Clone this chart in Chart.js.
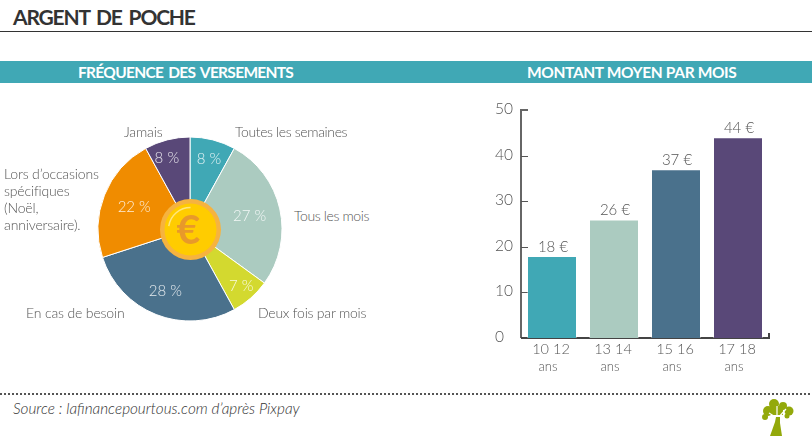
<!DOCTYPE html>
<html lang="fr">
<head>
<meta charset="utf-8">
<title>Argent de poche</title>
<script src="https://cdn.jsdelivr.net/npm/chart.js@4/dist/chart.umd.min.js"></script>
<style>
  html, body { margin: 0; padding: 0; background: #fff; }
  body { position: relative; width: 812px; height: 436px; overflow: hidden; font-family: Lato, sans-serif; }
  .abs { position: absolute; }
  canvas { position: absolute; display: block; }
  #title { left: 13px; top: 4px; font-size: 21px; font-weight: 700; color: #333; line-height: 26px; letter-spacing: -1.2px; word-spacing: 3px; }
  #rule { left: 0; top: 31px; width: 812px; height: 1px; background: #333; }
  #band { left: 0; top: 61px; width: 812px; height: 22px; background: #40a8b5; }
  .head { top: 61px; height: 22px; line-height: 23px; color: #fff; font-size: 15.5px; font-weight: 700; white-space: nowrap; }
  #dots { left: 0; top: 393px; width: 812px; height: 2px; background: repeating-linear-gradient(to right, #555 0 2px, transparent 2px 4px); }
  #source { left: 13px; top: 399px; font-size: 15.3px; font-style: italic; font-weight: 300; color: #333; }
  .lbl { font-size: 14px; font-weight: 300; color: #555; line-height: 17px; white-space: nowrap; letter-spacing: -0.15px; }
</style>
</head>
<body>
<div class="abs" id="title">ARGENT DE POCHE</div>
<div class="abs" id="rule"></div>
<div class="abs" id="band"></div>
<div class="abs head" style="left:78px;letter-spacing:-0.7px;word-spacing:2px">FRÉQUENCE DES VERSEMENTS</div>
<div class="abs head" style="left:527px;letter-spacing:-0.36px">MONTANT MOYEN PAR MOIS</div>

<canvas id="pieChart" width="200" height="200" style="left:90px;top:129px"></canvas>
<canvas id="barChart" width="300" height="290" style="left:480px;top:90px"></canvas>

<div class="abs lbl" style="left:124px;top:123px">Jamais</div>
<div class="abs lbl" style="left:235px;top:123px;letter-spacing:-0.37px">Toutes les semaines</div>
<div class="abs lbl" style="left:294px;top:207px;letter-spacing:-0.37px">Tous les mois</div>
<div class="abs lbl" style="left:258px;top:304px;letter-spacing:-0.22px">Deux fois par mois</div>
<div class="abs lbl" style="left:26px;top:304px">En cas de besoin</div>
<div class="abs lbl" style="left:4px;top:165px">Lors d’occasions<br>spécifiques<br>(Noël,<br>anniversaire).</div>

<div class="abs" id="dots"></div>
<div class="abs" id="source">Source : lafinancepourtous.com d’après Pixpay</div>

<svg class="abs" style="left:760px;top:398px" width="40" height="38" viewBox="0 0 40 38">
  <g fill="#93a90b">
    <circle cx="14" cy="6" r="5"/><circle cx="23" cy="8" r="4"/><circle cx="29" cy="13" r="4.5"/>
    <circle cx="8" cy="13" r="5"/><circle cx="5" cy="19" r="3"/><circle cx="27" cy="18" r="2.5"/>
    <rect x="11" y="8" width="12" height="9"/>
  </g>
  <path d="M17 20 L9 15 M17 20 L17 8 M18 20 L26 11" stroke="#fff" stroke-width="1.2" fill="none"/>
  <path d="M10 38 L15 24 L16 19 L20 19 L20 25 L22 38 Z" fill="#93a90b"/>
</svg>

<script>
// values
const pieLabels = ['Toutes les semaines', 'Tous les mois', 'Deux fois par mois', 'En cas de besoin', "Lors d'occasions spécifiques", 'Jamais'];
const pieValues = [8, 27, 7, 28, 22, 8];
const pieColors = ['#40a8b5', '#abcbc0', '#d3d92f', '#4a718c', '#f08c00', '#594878'];

const ageLabels = ['10 12', '13 14', '15 16', '17 18'];
const amounts = [18, 26, 37, 44];
const barColors = ['#40a8b5', '#abcbc0', '#4a718c', '#594878'];
const yTicks = [0, 10, 20, 30, 40, 50];

const FONT = 'Lato';

// how far from the centre each percentage sits (the original is hand placed)
const sliceLabelRadius = [72, 61, 76, 67, 60, 73];
const sliceLabelNudge = [1, 0, 1, 0, 0, -5];

// slice percentages, then the coin on top
const pieOverlay = {
  id: 'pieOverlay',
  afterDatasetsDraw(chart) {
    const c = chart.ctx;
    const arcs = chart.getDatasetMeta(0).data;
    c.save();
    c.font = '300 15px ' + FONT;
    c.fillStyle = 'rgba(255,255,255,0.85)';
    c.textAlign = 'center';
    c.textBaseline = 'middle';
    arcs.forEach((arc, i) => {
      const mid = (arc.startAngle + arc.endAngle) / 2;
      const r = sliceLabelRadius[i];
      c.fillText(pieValues[i] + ' %', arc.x + Math.cos(mid) * r + sliceLabelNudge[i], arc.y + Math.sin(mid) * r);
    });
    const x = arcs[0].x + 0.5, y = arcs[0].y + 0.5;
    c.fillStyle = '#f6b33f';
    c.beginPath(); c.arc(x, y, 30.5, 0, Math.PI * 2); c.fill();
    c.fillStyle = '#ffcc00';
    c.beginPath(); c.arc(x, y, 26, 0, Math.PI * 2); c.fill();
    c.strokeStyle = '#ffe680';
    c.lineWidth = 1.5;
    c.beginPath(); c.arc(x, y, 22, Math.PI * 1.05, Math.PI * 1.5); c.stroke();
    c.fillStyle = '#e8992a';
    c.font = '700 41px ' + FONT;
    c.fillText('€', x - 2, y + 1);
    c.restore();
  }
};

new Chart(document.getElementById('pieChart'), {
  type: 'pie',
  data: {
    labels: pieLabels,
    datasets: [{
      data: pieValues,
      backgroundColor: pieColors,
      borderColor: '#fff',
      borderWidth: 1
    }]
  },
  options: {
    responsive: false,
    animation: false,
    layout: { padding: 7.5 },
    plugins: { legend: { display: false }, tooltip: { enabled: false } }
  },
  plugins: [pieOverlay]
});

// axis lines sit under the bars, like in the original
const barAxes = {
  id: 'barAxes',
  beforeDatasetsDraw(chart) {
    const c = chart.ctx;
    const x = chart.scales.x, y = chart.scales.y;
    c.save();
    c.strokeStyle = '#666';
    c.lineWidth = 2;
    c.beginPath();
    c.moveTo(x.left + 7, y.getPixelForValue(50));
    c.lineTo(x.left, y.getPixelForValue(50));
    c.lineTo(x.left, y.bottom);
    c.stroke();
    c.strokeStyle = '#444';
    c.beginPath();
    c.moveTo(x.left, y.bottom);
    c.lineTo(x.right, y.bottom);
    c.lineTo(x.right, y.bottom - 5);
    c.stroke();
    c.lineWidth = 1;
    c.strokeStyle = '#555';
    yTicks.slice(1, 5).forEach(v => {
      const py = Math.round(y.getPixelForValue(v)) + 0.5;
      c.beginPath(); c.moveTo(x.left, py); c.lineTo(x.left + 7, py); c.stroke();
    });
    c.restore();
  }
};

// value labels and the small "ans" line
const barLabels = {
  id: 'barLabels',
  afterDatasetsDraw(chart) {
    const c = chart.ctx;
    const x = chart.scales.x, y = chart.scales.y;
    c.save();
    c.textAlign = 'center';
    c.fillStyle = '#555';
    c.textBaseline = 'middle';
    c.font = '300 15px ' + FONT;
    chart.getDatasetMeta(0).data.forEach((bar, i) => {
      c.fillText(amounts[i] + ' €', bar.x + 1, bar.y - 9);
    });
    c.font = '300 13px ' + FONT;
    ageLabels.forEach((_, i) => {
      c.fillText('ans', x.getPixelForTick(i) - 4, y.bottom + 29);
    });
    c.restore();
  }
};

new Chart(document.getElementById('barChart'), {
  type: 'bar',
  data: {
    labels: ageLabels,
    datasets: [{
      data: amounts,
      backgroundColor: barColors,
      borderColor: 'rgba(255,255,255,0.35)',
      borderWidth: 1,
      barPercentage: 50 / 62,
      categoryPercentage: 1
    }]
  },
  options: {
    responsive: false,
    animation: false,
    layout: { padding: { top: 20, right: 11, left: 15, bottom: 0 } },
    plugins: { legend: { display: false }, tooltip: { enabled: false } },
    scales: {
      x: {
        afterFit(s) { s.height = 42; s.paddingLeft = 0; s.paddingRight = 0; },
        grid: { display: false, drawTicks: false },
        border: { display: false },
        ticks: { color: '#555', padding: 3, labelOffset: -1, maxRotation: 0, font: { family: FONT, size: 14.5, weight: '300' } }
      },
      y: {
        min: 0,
        max: 50,
        afterFit(s) { s.width = 26; s.paddingTop = 0; s.paddingBottom = 0; },
        afterBuildTicks(s) { s.ticks = yTicks.map(v => ({ value: v })); },
        grid: { display: false },
        border: { display: false },
        ticks: { color: '#555', crossAlign: 'far', labelOffset: -1, font: { family: FONT, size: 15.5, weight: '300' } }
      }
    }
  },
  plugins: [barAxes, barLabels]
});
</script>
</body>
</html>
